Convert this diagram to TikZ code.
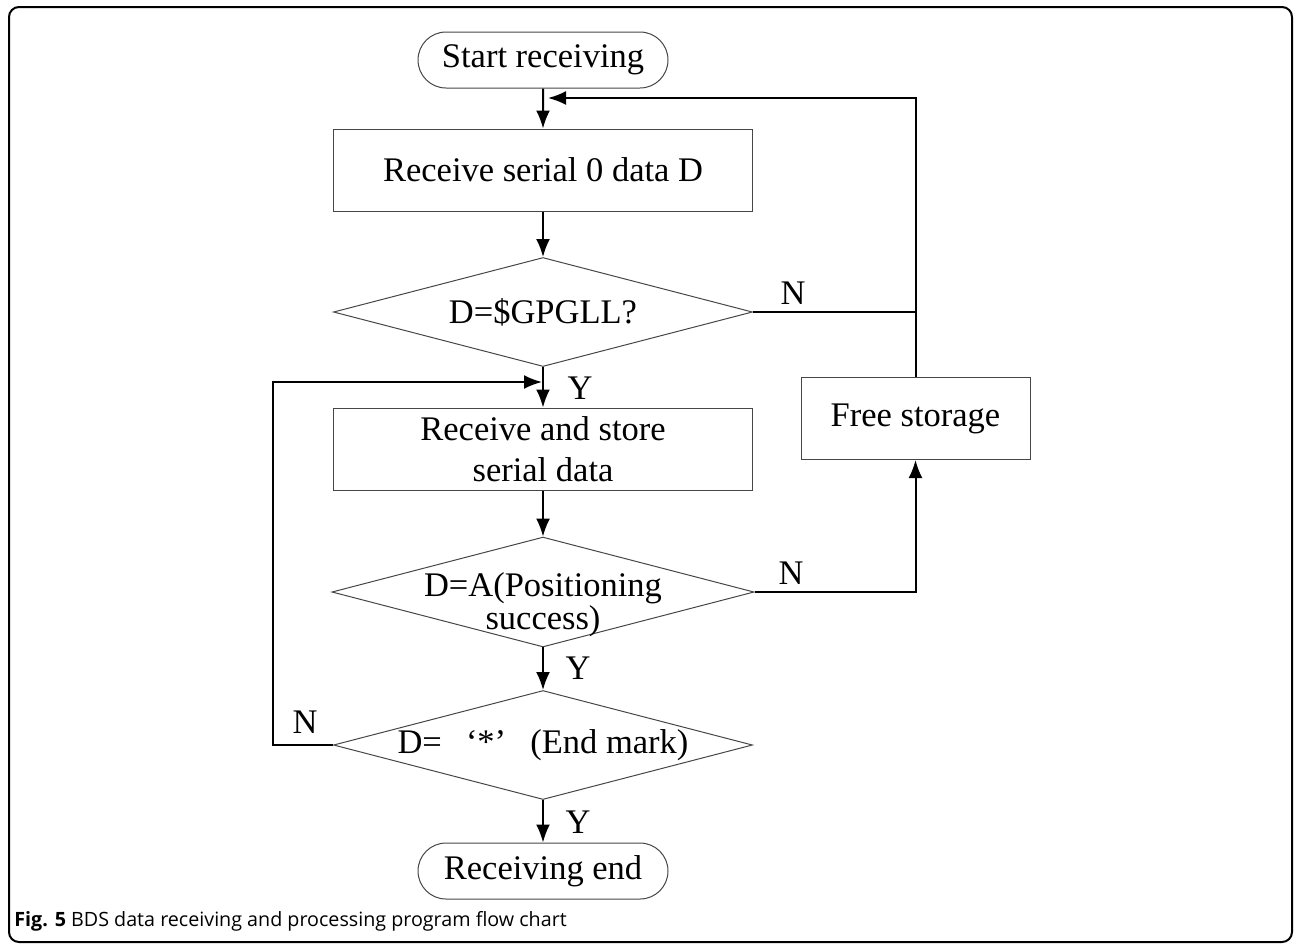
\documentclass[tikz,border=0pt]{standalone}
\usepackage{fontspec}
\setmainfont{Liberation Serif}
\newfontfamily\capfont{Open Sans}
\usetikzlibrary{shapes.geometric,shapes.misc,arrows.meta,positioning}
\definecolor{edgegray}{RGB}{70,70,70}
\tikzstyle{terminal} = [shape=rounded rectangle, draw=edgegray,
		line width=0.5pt, anchor=center,
		minimum width=125pt, minimum height=28pt, inner sep=0pt]
\tikzstyle{rect} = [shape=rectangle, draw=edgegray,
		line width=0.5pt, anchor=center, align=center,
		minimum width=209.5pt, minimum height=41pt, inner sep=0pt]
\tikzstyle{decide} = [shape=diamond, draw=edgegray,
		line width=0.5pt, anchor=center, align=center, aspect=3.84,
		minimum width=209.5pt, minimum height=54.5pt,
		inner ysep=0pt, inner xsep=-14.5pt]
\tikzstyle{yn} = [inner sep=0pt, anchor=center]
\tikzstyle{flow} = [line width=1pt, >={Latex[length=9pt,width=7pt]}]

\begin{document}
\begin{tikzpicture}[x=0.5pt, y=-0.5pt, font=\fontsize{17.25pt}{20.5pt}\selectfont]
	\useasboundingbox (0,0) rectangle (1295,950);
	\draw[line width=1pt, rounded corners=5pt] (9,7) rectangle (1292,942);

	\node[terminal] (start) at (543,60) {Start receiving};
	\node[rect] (recv) at (543,170) {Receive serial 0 data D};
	\node[decide] (gpgll) at (543,312) {D=\$GPGLL?};
	\node[rect] (store) at (543,449) {Receive and store\\serial data};
	\node[decide, inner xsep=-25pt] (pos) at (543,592) {\raisebox{-6.5pt}[\height][\depth]{%
		\begin{tabular}{@{}c@{}}D=A(Positioning\\[-4pt]success)\end{tabular}}};
	\node[decide] (mark) at (543,745) {D=\hspace{0.7em}‘*’\hspace{0.7em}(End mark)};
	\node[terminal] (stop) at (543,871) {Receiving end};
	\node[rect, minimum width=114.5pt] (free) at (915.5,418.5) {Free storage};

	\coordinate (top) at (543,98);
	\coordinate (back) at (543,382);

	\path [flow,->] (start) edge (recv);
	\path [flow,->] (recv) edge (gpgll);
	\path [flow,->] (gpgll) edge (store);
	\path [flow,->] (store) edge (pos);
	\path [flow,->] (pos) edge (mark);
	\path [flow,->] (mark) edge (stop);

	\draw [flow,->] (gpgll.east) -| (free.north |- top) -- ([xshift=2.5pt]top);
	\draw [flow] (free.north) -- (free.north |- gpgll.east);
	\draw [flow,->] (pos.east) -| (free.south);
	\draw [flow,->] (mark.west) -- ++(-60,0) |- ([xshift=-0.5pt]back);

	\node[yn] (n1) at (793,293) {N};
	\node[yn] (n2) at (791,573) {N};
	\node[yn] (n3) at (305,722) {N};
	\node[yn] (y1) at (580,388) {Y};
	\node[yn] (y2) at (578,668) {Y};
	\node[yn] (y3) at (578,822) {Y};

	\node[anchor=base west, inner sep=0pt,
		font=\capfont\fontsize{9.85pt}{11pt}\selectfont] (caption) at (14,926)
		{\textbf{Fig. 5} BDS data receiving and processing program flow chart};
\end{tikzpicture}
\end{document}
